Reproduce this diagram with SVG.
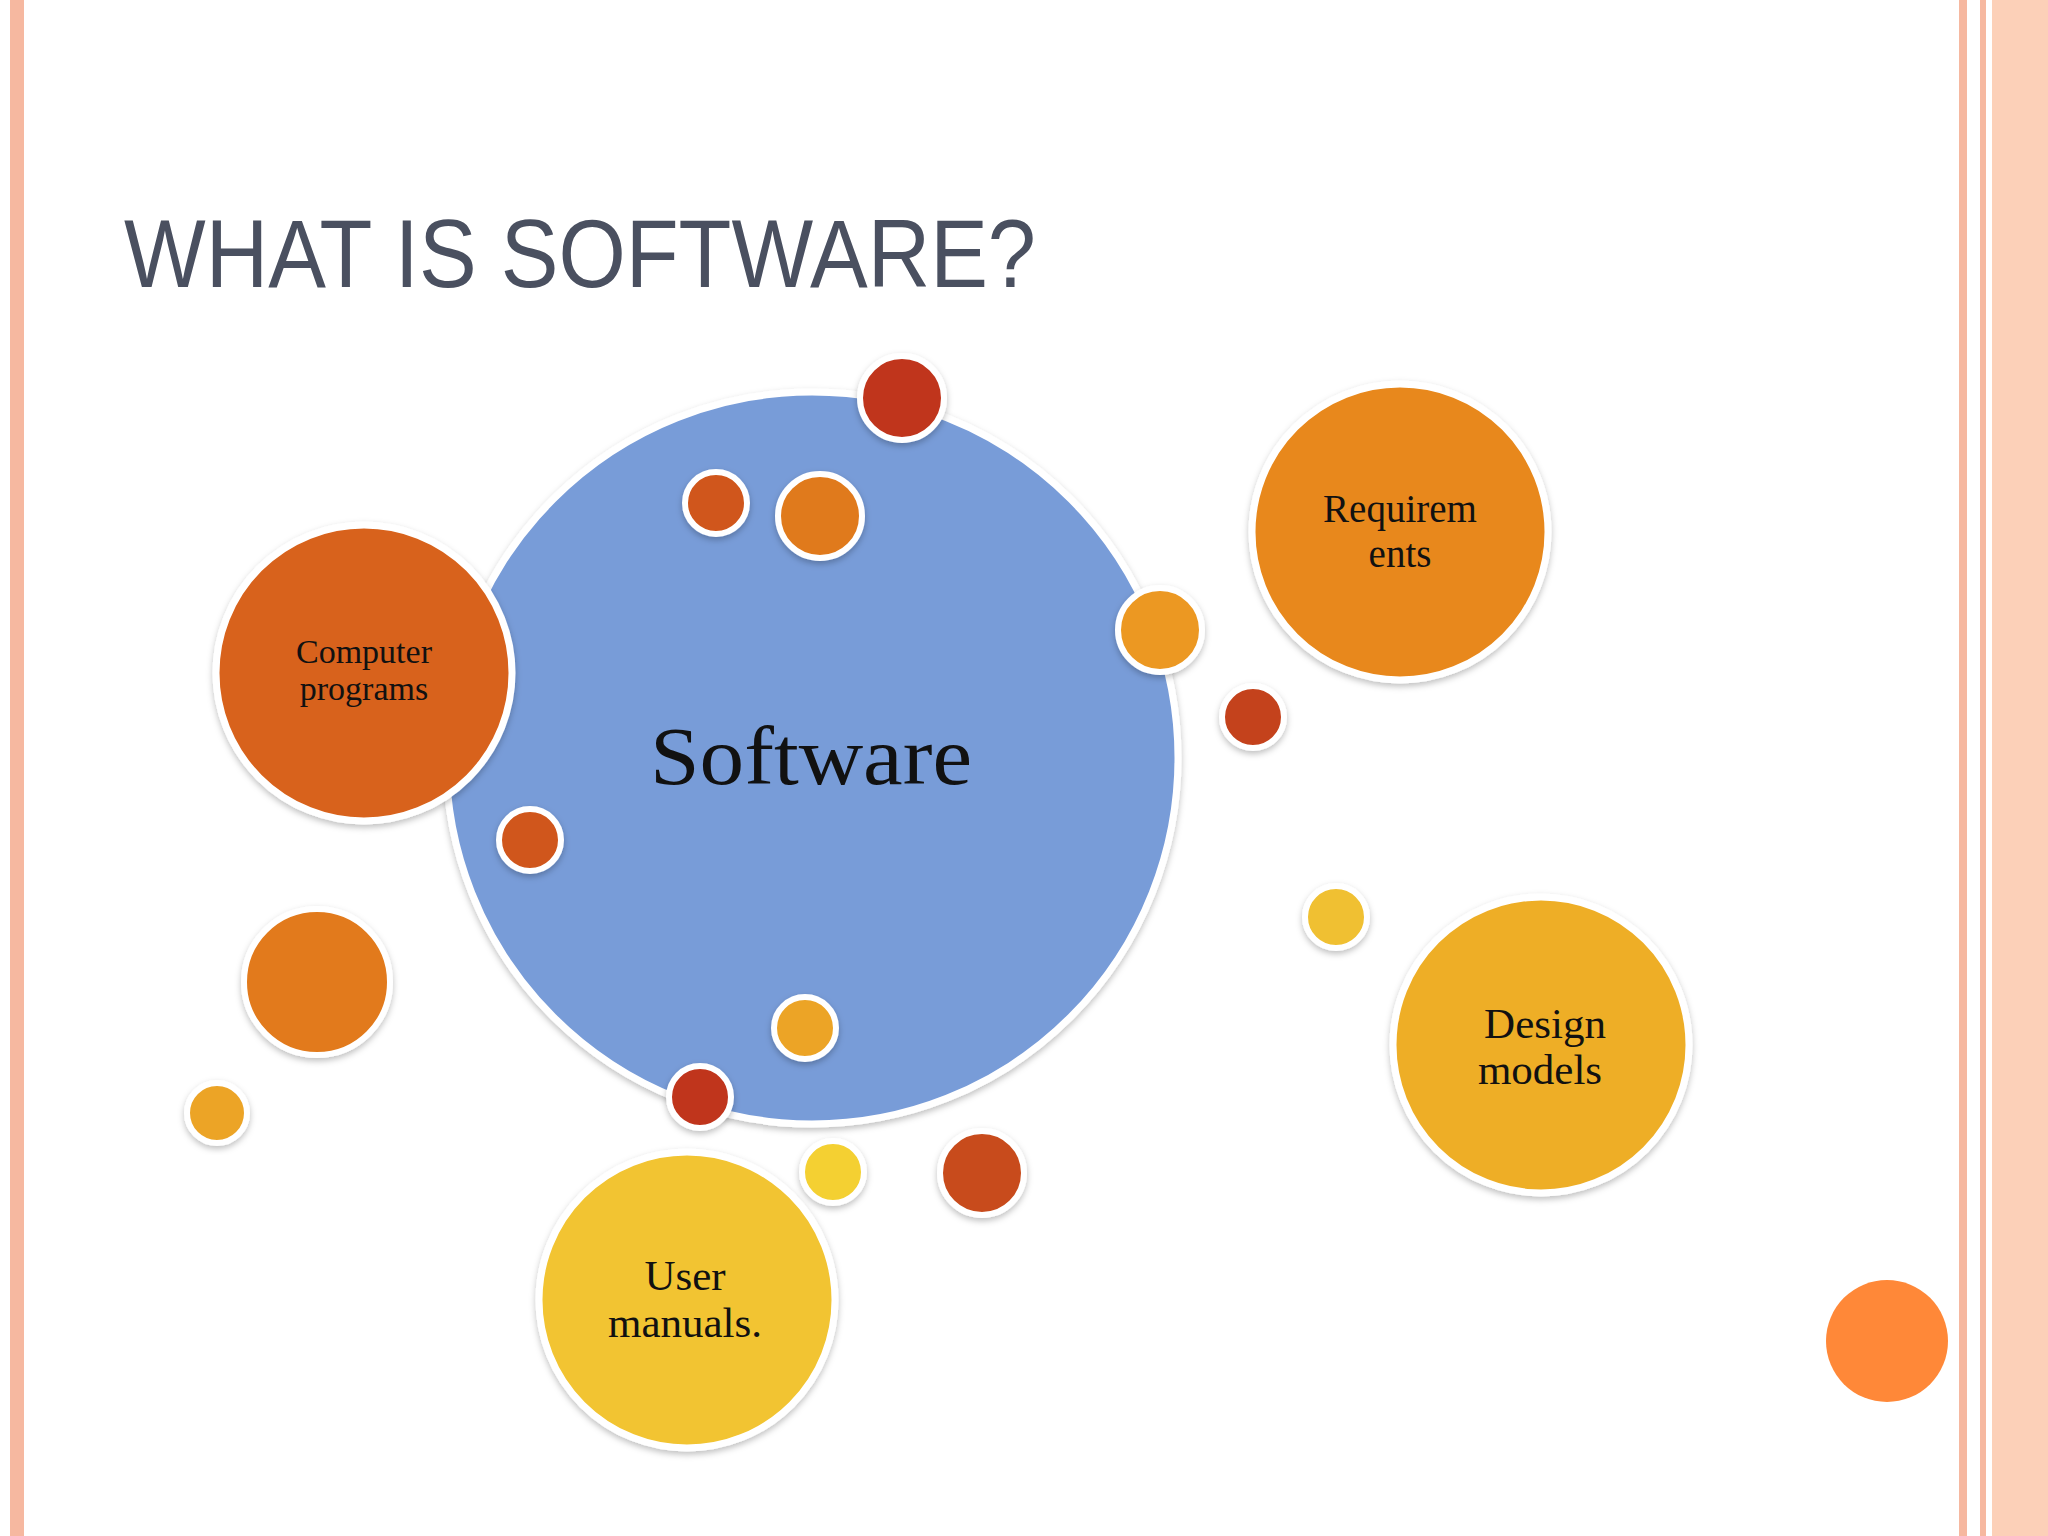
<svg xmlns="http://www.w3.org/2000/svg" width="2048" height="1536" viewBox="0 0 2048 1536">
<defs>
<filter id="sh" x="-20%" y="-20%" width="140%" height="140%"><feDropShadow dx="0" dy="3" stdDeviation="3" flood-color="#000" flood-opacity="0.25"/></filter>
</defs>
<style>
.b{stroke:#fff;stroke-width:7;filter:url(#sh)}
.s{stroke:#fff;stroke-width:6;filter:url(#sh)}
.t{font-family:"Liberation Serif",serif;text-anchor:middle;fill:#111}
</style>
<rect width="2048" height="1536" fill="#fff"/>
<rect x="10" y="0" width="14" height="1536" fill="#f6b8a0"/>
<rect x="1959" y="0" width="8" height="1536" fill="#f6b8a0"/>
<rect x="1980" y="0" width="6" height="1536" fill="#f6b8a0"/>
<rect x="1992" y="0" width="56" height="1536" fill="#fcd0b8"/>
<text x="124" y="287" font-family="Liberation Sans, sans-serif" font-size="96" fill="#4a5060" textLength="912" lengthAdjust="spacingAndGlyphs">WHAT IS SOFTWARE?</text>
<g id="software"><circle class="b" cx="812" cy="758" r="366" fill="#789cd8"/><text class="t" x="811" y="784" font-size="82" textLength="322" lengthAdjust="spacingAndGlyphs">Software</text></g>
<g id="computer"><circle class="b" cx="364" cy="673" r="148" fill="#d8621a"/><text class="t" x="364" y="663" font-size="34">Computer</text><text class="t" x="364" y="700" font-size="34">programs</text></g>
<g id="requirements"><circle class="b" cx="1400" cy="532" r="148" fill="#e8881a"/><text class="t" x="1400" y="522" font-size="39">Requirem</text><text class="t" x="1400" y="567" font-size="39">ents</text></g>
<g id="design"><circle class="b" cx="1541" cy="1045" r="148" fill="#eeae28"/><text class="t" x="1545" y="1038" font-size="43">Design</text><text class="t" x="1540" y="1084" font-size="43">models</text></g>
<g id="user"><circle class="b" cx="687" cy="1300" r="148" fill="#f2c430"/><text class="t" x="685" y="1290" font-size="43">User</text><text class="t" x="685" y="1337" font-size="43">manuals.</text></g>
<g id="dots">
<circle class="s" cx="902" cy="398" r="42" fill="#c0341c"/>
<circle class="s" cx="716" cy="503" r="31" fill="#d0561a"/>
<circle class="s" cx="820" cy="516" r="42" fill="#e07a1c"/>
<circle class="s" cx="1160" cy="630" r="42" fill="#ec9820"/>
<circle class="s" cx="1253" cy="717" r="31" fill="#c4421c"/>
<circle class="s" cx="530" cy="840" r="31" fill="#d0561a"/>
<circle class="s" cx="317" cy="982" r="73" fill="#e27a1a"/>
<circle class="s" cx="217" cy="1113" r="30" fill="#eca428"/>
<circle class="s" cx="805" cy="1028" r="31" fill="#eca428"/>
<circle class="s" cx="700" cy="1097" r="31" fill="#c0341c"/>
<circle class="s" cx="833" cy="1172" r="31" fill="#f4d030"/>
<circle class="s" cx="982" cy="1173" r="42" fill="#c84c1c"/>
<circle class="s" cx="1336" cy="917" r="31" fill="#f0c030"/>
<circle cx="1887" cy="1341" r="61" fill="#ff8838"/>
</g>
<g id="connectors"/>
</svg>
